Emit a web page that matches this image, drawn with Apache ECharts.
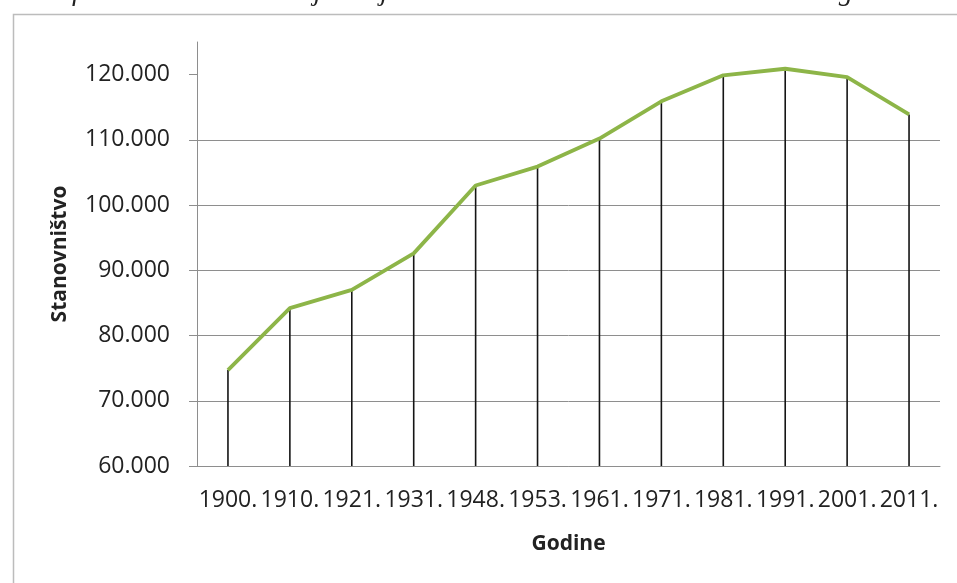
<!DOCTYPE html>
<html>
<head>
<meta charset="utf-8">
<script src="https://cdn.jsdelivr.net/npm/echarts@6/dist/echarts.min.js"></script>
<style>
  html, body { margin: 0; padding: 0; background: #fff; }
  #chart { width: 957px; height: 583px; }
</style>
</head>
<body>
<div id="chart"></div>
<script>
// godine popisa i broj stanovnika (procjena s grafa)
const years = ['1900.', '1910.', '1921.', '1931.', '1948.', '1953.', '1961.', '1971.', '1981.', '1991.', '2001.', '2011.'];
const population = [74700, 84200, 87000, 92600, 103000, 105900, 110200, 115900, 119900, 120900, 119600, 113900];
const yTicks = [60000, 70000, 80000, 90000, 100000, 110000, 120000];

const fmt = v => String(v).replace(/\B(?=(\d{3})+(?!\d))/g, '.');
const font = '"Open Sans", "Liberation Sans", sans-serif';
const gridColor = '#8e8e8e';

const chart = echarts.init(document.getElementById('chart'));

chart.setOption({
  animation: false,
  backgroundColor: '#fff',
  title: {
    text: 'Grafikon 1. Prikaz kretanja broja stanovnika na LBC od 1900. do 2011. godine',
    left: 22,
    top: -26,
    textStyle: {
      fontFamily: '"Liberation Serif", serif',
      fontStyle: 'italic',
      fontWeight: 'normal',
      fontSize: 28,
      color: '#222'
    }
  },
  graphic: [{
    type: 'rect',
    left: 11,
    top: 12,
    shape: { width: 980, height: 620 },
    style: { fill: null, stroke: '#bcbcbc', lineWidth: 1.5 },
    silent: true
  }],
  grid: { left: 197, right: 17, top: 42, bottom: 117 },
  xAxis: {
    type: 'category',
    data: years,
    boundaryGap: true,
    name: 'Godine',
    nameLocation: 'middle',
    nameGap: 68,
    nameTextStyle: { fontFamily: font, fontWeight: 'bold', fontSize: 21, color: '#222' },
    axisLine: { lineStyle: { color: gridColor, width: 1 } },
    axisTick: { show: false },
    axisLabel: { interval: 0, margin: 23, fontFamily: font, fontSize: 23, color: '#222' }
  },
  yAxis: {
    type: 'value',
    min: 60000,
    max: 125000,
    interval: 10000,
    name: 'Stanovništvo',
    nameLocation: 'middle',
    nameGap: 126,
    nameRotate: 90,
    nameTextStyle: { fontFamily: font, fontWeight: 'bold', fontSize: 21, color: '#222' },
    axisLine: { show: true, lineStyle: { color: gridColor, width: 1 } },
    axisTick: { show: true, length: 8, customValues: yTicks, lineStyle: { color: gridColor } },
    axisLabel: { customValues: yTicks, margin: 27, fontFamily: font, fontSize: 23, color: '#222', formatter: fmt },
    splitLine: { show: true, showMaxLine: false, lineStyle: { color: gridColor, width: 1 } }
  },
  series: [
    {
      // okomite linije do osi
      type: 'bar',
      data: population,
      barWidth: 1.6,
      itemStyle: { color: '#151515' },
      silent: true,
      z: 2
    },
    {
      type: 'line',
      data: population,
      showSymbol: false,
      symbol: 'none',
      lineStyle: { color: '#8db548', width: 3.8 },
      z: 3
    }
  ]
});
</script>
</body>
</html>
